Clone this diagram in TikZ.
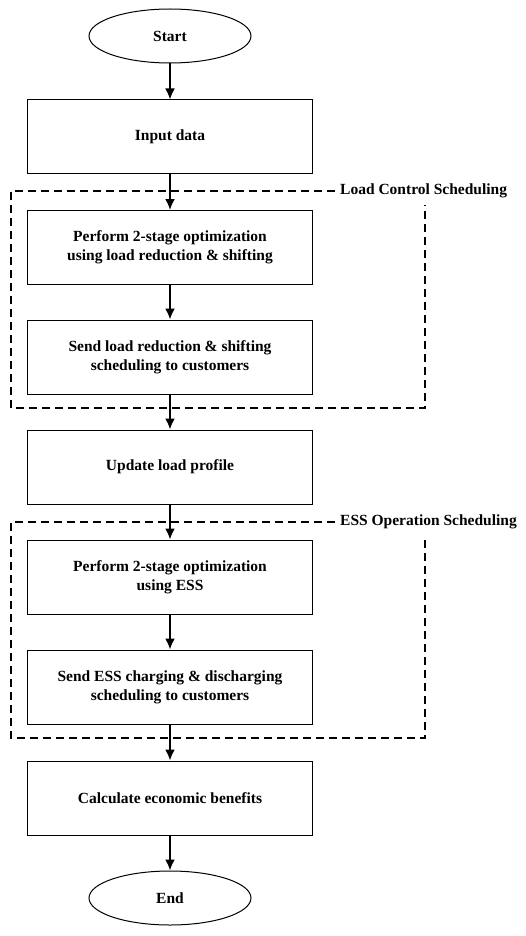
\documentclass[tikz,border=0pt]{standalone}
\usepackage{fontspec}
\setmainfont{Liberation Serif}
\usepackage{tikz}
\usetikzlibrary{shapes.geometric,arrows.meta}

\tikzset{
  stepbox/.style={draw,line width=1pt,minimum width=285pt,minimum height=74pt,align=center,font=\bfseries\fontsize{15.5}{19}\selectfont},
  term/.style={draw,ellipse,line width=1pt,minimum width=162pt,minimum height=54pt,font=\bfseries\fontsize{15.5}{19}\selectfont},
  flow/.style={-{Latex[length=11pt,width=10pt]},line width=2pt},
  group/.style={line width=2.8pt,dash pattern=on 8pt off 5pt},
  grouplabel/.style={anchor=west,inner sep=0pt,font=\bfseries\fontsize{15.5}{19}\selectfont}
}

\begin{document}
\begin{tikzpicture}[x=1pt,y=-1pt]
\useasboundingbox (0,0) rectangle (525,936);
% nodes
\node[term] (start) at (170,36) {Start};
\node[stepbox] (input) at (170,137) {Input data};
\node[stepbox] (optload) at (170,247.5) {Perform 2-stage optimization\\using load reduction \& shifting};
\node[stepbox] (sendload) at (170,357) {Send load reduction \& shifting\\scheduling to customers};
\node[stepbox] (update) at (170,467) {Update load profile};
\node[stepbox] (optess) at (170,577) {Perform 2-stage optimization\\using ESS};
\node[stepbox] (sendess) at (170,687) {Send ESS charging \& discharging\\scheduling to customers};
\node[stepbox] (calc) at (170,798) {Calculate economic benefits};
\node[term] (end) at (170,898) {End};
% dashed groups
\node[grouplabel] (loadlbl) at (340,191) {Load Control Scheduling};
\draw[group] (335,191) -- (11,191) -- (11,408) -- (425,408) -- (425,205);
\node[grouplabel] (esslbl) at (340,522) {ESS Operation Scheduling};
\draw[group] (335,522) -- (11,522) -- (11,738) -- (425,738) -- (425,536);
% arrows
\draw[flow] (start) -- (input);
\draw[flow] (input) -- (optload);
\draw[flow] (optload) -- (sendload);
\draw[flow] (sendload) -- (update);
\draw[flow] (update) -- (optess);
\draw[flow] (optess) -- (sendess);
\draw[flow] (sendess) -- (calc);
\draw[flow] (calc) -- (end);
\end{tikzpicture}
\end{document}
